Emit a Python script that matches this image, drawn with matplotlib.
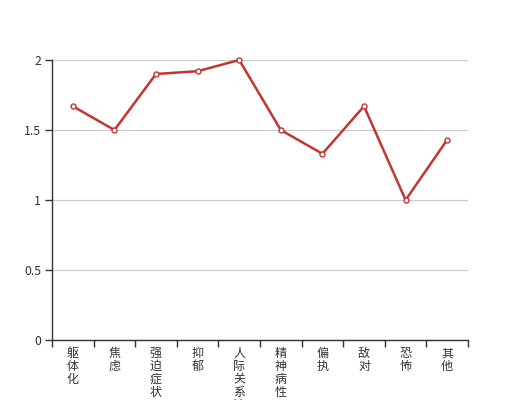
import matplotlib
matplotlib.use("Agg")
import matplotlib.pyplot as plt
import numpy as np

plt.rcParams['font.family'] = ['Noto Sans CJK SC', 'DejaVu Sans']

categories = ["躯体化", "焦虑", "强迫症状", "抑郁", "人际关系敏感", "精神病性", "偏执", "敌对", "恐怖", "其他"]
values = [1.67, 1.5, 1.9, 1.92, 2.0, 1.5, 1.33, 1.67, 1.0, 1.43]
yticks = [0, 0.5, 1, 1.5, 2]
ytick_labels = ["0", "0.5", "1", "1.5", "2"]

fig = plt.figure(figsize=(5.2, 4.0), dpi=100)
ax = fig.add_axes([0.1, 0.15, 0.8, 0.7])

x = np.arange(len(categories))
ax.plot(x, values, color="#c23531", lw=1.8, marker="o", markersize=3.6,
        markerfacecolor="white", markeredgecolor="#c23531", markeredgewidth=1.0,
        zorder=3, clip_on=False)

ax.set_xlim(-0.5, len(categories) - 0.5)
ax.set_ylim(0, 2)
ax.set_yticks(yticks)
ax.set_yticklabels(ytick_labels)
ax.yaxis.grid(True, color="#cccccc", lw=0.9)
ax.set_axisbelow(True)

ax.set_xticks(x)
ax.set_xticklabels(["\n".join(c) for c in categories], va="top", linespacing=1.0)
ax.set_xticks(np.arange(-0.5, len(categories)), minor=True)
ax.tick_params(axis="x", which="major", length=0, pad=5, labelsize=8.7, colors="#333333")
ax.tick_params(axis="x", which="minor", length=5, width=1, color="#333333", direction="out")
ax.tick_params(axis="y", length=5, width=1, color="#333333", labelsize=8.8, labelcolor="#333333", pad=3)

for s in ["top", "right"]:
    ax.spines[s].set_visible(False)
for s in ["left", "bottom"]:
    ax.spines[s].set_color("#333333")
    ax.spines[s].set_linewidth(1)

fig.savefig("out.png", dpi=100)
